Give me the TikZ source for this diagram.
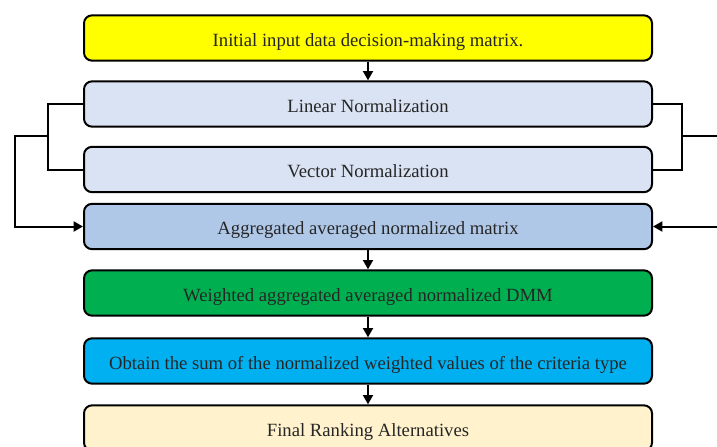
\documentclass[tikz,border=0pt]{standalone}
\usepackage{fontspec}
\setmainfont{Liberation Serif}
\usetikzlibrary{positioning}
\usetikzlibrary{arrows.meta}
\definecolor{boxyellow}{HTML}{FFFF00}
\definecolor{boxlight}{HTML}{DAE3F3}
\definecolor{boxmid}{HTML}{B0C8E8}
\definecolor{boxgreen}{HTML}{00B050}
\definecolor{boxcyan}{HTML}{00B0F0}
\definecolor{boxcream}{HTML}{FFF2CC}
\tikzset{
  stepbox/.style={draw,line width=1.5pt,rounded corners=6pt,minimum width=426pt,
    minimum height=34pt,font=\fontsize{14}{16}\selectfont,inner sep=0pt,text=black!85,
    text height=14pt,text depth=2pt},
  link/.style={line width=1.5pt}
}

\begin{document}
\begin{tikzpicture}[>={Triangle[length=7pt,width=7.5pt]},x=0.75pt,y=-0.75pt]
    \useasboundingbox (0,0) rectangle (717,446);
    \node[stepbox,fill=boxyellow] (init) at (368,38) {Initial input data decision-making matrix.};
    \node[stepbox,fill=boxlight] (lin) at (368,104) {Linear Normalization};
    \node[stepbox,fill=boxlight] (vec) at (368,169.5) {Vector Normalization};
    \node[stepbox,fill=boxmid] (agg) at (368,226.5) {Aggregated averaged normalized matrix};
    \node[stepbox,fill=boxgreen] (wdmm) at (368,293) {Weighted aggregated averaged normalized DMM};
    \node[stepbox,fill=boxcyan] (sum) at (368,361) {Obtain the sum of the normalized weighted values of the criteria type};
    \node[stepbox,fill=boxcream] (rank) at (368,428) {Final Ranking Alternatives};
    % side brackets
    \coordinate (lbar) at (48,136);
    \coordinate (lout) at (15,136);
    \coordinate (rbar) at (682,136);
    \coordinate (rout) at (717,136);
    \coordinate (rin) at (717,226.5);
    \draw[link] (lin.west) -| (lbar) |- (vec.west);
    \draw[link,->] (lbar) -- (lout) |- (agg.west);
    \draw[link] (lin.east) -| (rbar) |- (vec.east);
    \draw[link] (rbar) -- (rout);
    \draw[link,->] (rin) -- (agg.east);
    % main flow
    \draw[link,->] (init) -- (lin);
    \draw[link,->] (agg) -- (wdmm);
    \draw[link,->] (wdmm) -- (sum);
    \draw[link,->] (sum) -- (rank);
\end{tikzpicture}
\end{document}
